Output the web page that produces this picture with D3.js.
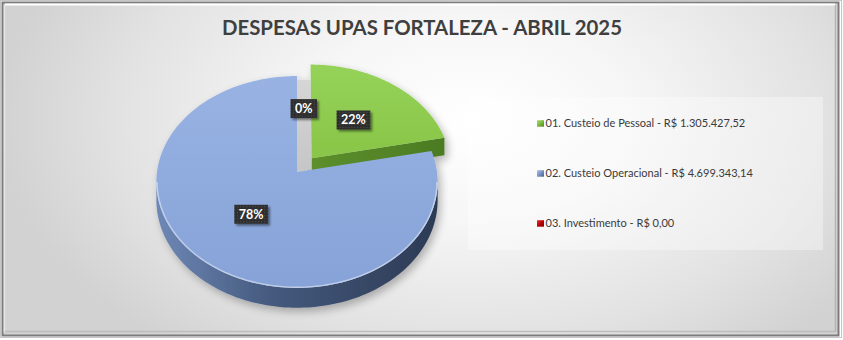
<!DOCTYPE html>
<html>
<head>
<meta charset="utf-8">
<script src="https://cdn.jsdelivr.net/npm/d3@7"></script>
<style>
  html, body { margin: 0; padding: 0; background: #ffffff; }
  svg { display: block; }
</style>
</head>
<body>
<svg id="chart" width="843" height="340"></svg>
<script>
// ---- data ----
const chartTitle = "DESPESAS UPAS FORTALEZA - ABRIL 2025";
const categories = ["01. Custeio de Pessoal", "02. Custeio Operacional", "03. Investimento"];
const values = [1305427.52, 4699343.14, 0.00];

// ---- style ----
const explode = [0.17, 0, 0];            // radial pull-out per slice (fraction of radius)
const fontFamily = "Lato, 'Open Sans', 'Liberation Sans', sans-serif";

const W = 843, H = 340;
const TAU = 2 * Math.PI;
const geo = { cx: 297, cy: 172, rx: 140, ry: 105, persp: 0.094, depth: 18 };

const brl = d3.formatLocale({ decimal: ",", thousands: ".", grouping: [3], currency: ["R$ ", ""] }).format(",.2f");
const pct = d3.format(".0%");
const total = d3.sum(values);

const svg = d3.select("#chart");
const defs = svg.append("defs");

function linGrad(id, x1, y1, x2, y2, stops, units) {
  const g = defs.append("linearGradient").attr("id", id)
    .attr("gradientUnits", units || "userSpaceOnUse")
    .attr("x1", x1).attr("y1", y1).attr("x2", x2).attr("y2", y2);
  stops.forEach(([o, c]) => g.append("stop").attr("offset", o).attr("stop-color", c));
}

// chart area background
const bg = defs.append("radialGradient").attr("id", "bgGrad")
  .attr("gradientUnits", "userSpaceOnUse")
  .attr("cx", 470).attr("cy", 120).attr("r", 470)
  .attr("gradientTransform", "translate(470,120) scale(1,0.62) translate(-470,-120)");
[[0, "#ffffff"], [0.35, "#f6f6f6"], [0.75, "#e2e2e2"], [1, "#d2d2d2"]]
  .forEach(([o, c]) => bg.append("stop").attr("offset", o).attr("stop-color", c));

linGrad("blueTop", 0, 76, 0, 290, [[0, "#98b3e3"], [1, "#86a2d7"]]);
linGrad("blueSide", 156, 0, 438, 0, [[0, "#6e88b6"], [0.4, "#455a7e"], [1, "#2c3a54"]]);
linGrad("greenTop", 0, 64, 0, 160, [[0, "#95d259"], [1, "#88c547"]]);
linGrad("greenSide", 312, 0, 446, 0, [[0, "#5c8f2d"], [1, "#4b7b22"]]);
linGrad("cutFace", 0, 80, 0, 170, [[0, "#d6d6d6"], [1, "#c6c6c6"]]);
linGrad("mkGreen", 0, 0, 1, 1, [[0, "#a9dd73"], [0.5, "#7dbb3c"], [1, "#4f8424"]], "objectBoundingBox");
linGrad("mkBlue", 0, 0, 1, 1, [[0, "#aec3ea"], [0.5, "#7892c4"], [1, "#4a5f87"]], "objectBoundingBox");
linGrad("mkRed", 0, 0, 1, 1, [[0, "#e03a3a"], [0.5, "#c00000"], [1, "#7d0000"]], "objectBoundingBox");

const sliceFill = ["greenTop", "blueTop", "mkRed"];
const sliceSide = ["greenSide", "blueSide", "mkRed"];
const markerFill = ["mkGreen", "mkBlue", "mkRed"];

// soft drop shadow for the pie and label boxes
function shadow(id, dx, dy, sd, op) {
  const f = defs.append("filter").attr("id", id)
    .attr("x", "-20%").attr("y", "-20%").attr("width", "150%").attr("height", "150%");
  f.append("feGaussianBlur").attr("in", "SourceAlpha").attr("stdDeviation", sd).attr("result", "b");
  f.append("feOffset").attr("in", "b").attr("dx", dx).attr("dy", dy).attr("result", "o");
  f.append("feComponentTransfer").attr("in", "o").attr("result", "s")
    .append("feFuncA").attr("type", "linear").attr("slope", op);
  const m = f.append("feMerge");
  m.append("feMergeNode").attr("in", "s");
  m.append("feMergeNode").attr("in", "SourceGraphic");
}
shadow("pieShadow", 3, 4, 4, 0.28);
shadow("boxShadow", 1.5, 1.5, 1.2, 0.45);

// dotted texture of the data label boxes
const dots = defs.append("pattern").attr("id", "dots")
  .attr("patternUnits", "userSpaceOnUse").attr("width", 3).attr("height", 3);
dots.append("rect").attr("width", 3).attr("height", 3).attr("fill", "#2f2f2f");
dots.append("rect").attr("x", 1).attr("y", 1).attr("width", 1).attr("height", 1).attr("fill", "#505050");

// ---- frame ----
svg.append("rect").attr("x", 0.5).attr("y", 0.5).attr("width", W - 2).attr("height", H - 3)
  .attr("fill", "none").attr("stroke", "#c6c6c6");
svg.append("rect").attr("x", 2.5).attr("y", 2.5).attr("width", 836).attr("height", 333)
  .attr("fill", "url(#bgGrad)").attr("stroke", "#7c7c7c").attr("stroke-width", 2);
svg.append("path").attr("d", "M5,4.5H835").attr("stroke", "#ffffff").attr("stroke-width", 2);
svg.append("path").attr("d", "M4.5,5V332").attr("stroke", "#e6e6e6").attr("stroke-width", 1.5);
svg.append("path").attr("d", "M5,331.5H835").attr("stroke", "#bdbdbd").attr("stroke-width", 1.5);
svg.append("path").attr("d", "M835.5,5V332").attr("stroke", "#b4b4b4").attr("stroke-width", 1.5);

// ---- title ----
svg.append("text")
  .attr("x", 422).attr("y", 35)
  .attr("text-anchor", "middle")
  .attr("font-family", fontFamily).attr("font-weight", 700).attr("font-size", 21)
  .attr("fill", "#3f3f3f")
  .attr("textLength", 400).attr("lengthAdjust", "spacingAndGlyphs")
  .text(chartTitle);

// ---- 3D pie ----
const arcs = d3.pie().sort(null).value(d => d)(values);
arcs.forEach((a, i) => { a.index = i; a.mid = (a.startAngle + a.endAngle) / 2; });

function project(X, Z, z) {
  const s = 1 / (1 + geo.persp * Z);
  return [geo.cx + geo.rx * X * s, geo.cy - geo.ry * Z * s + z * geo.depth * s];
}
function pt(a, theta, r, z) {
  const e = explode[a.index];
  return project(r * Math.sin(theta) + e * Math.sin(a.mid), r * Math.cos(theta) + e * Math.cos(a.mid), z);
}
function arcPts(a, t0, t1, r, z, n) {
  const out = [];
  for (let i = 0; i <= n; i++) out.push(pt(a, t0 + (t1 - t0) * i / n, r, z));
  return out;
}
// angular distance on the circle
function angDist(p, q) {
  const d = Math.abs(((p - q) % TAU + TAU) % TAU);
  return Math.min(d, TAU - d);
}
const line = d3.line();
const closed = pts => line(pts) + "Z";

const pie = svg.append("g").attr("filter", "url(#pieShadow)");
const visible = arcs.filter(a => a.endAngle - a.startAngle > 1e-6);

// cut face of a slice seen through the gap opened by an exploded neighbour
visible.forEach(a => {
  if (!explode[a.index]) return;
  const prevSlice = visible.find(v => v.index !== a.index && angDist(v.endAngle, a.startAngle) < 1e-6);
  if (!prevSlice) return;
  const pTop = pt(prevSlice, prevSlice.endAngle, 1, 0.22);
  const pV = pt(prevSlice, prevSlice.endAngle, 0, 0);
  const aTop = pt(a, a.startAngle, 1, 0);
  const aV = pt(a, a.startAngle, 0, 0.55);
  pie.append("path").attr("fill", "url(#cutFace)")
    .attr("d", closed([pTop, [aTop[0], pTop[1]], aV, pV]));
});

// radial side faces that turn towards the viewer
visible.forEach(a => {
  const faces = [];
  if (-Math.sin(a.endAngle) < -0.05) faces.push(a.endAngle);
  if (Math.sin(a.startAngle) < -0.05) faces.push(a.startAngle);
  faces.forEach(t => {
    pie.append("path").attr("fill", `url(#${sliceSide[a.index]})`)
      .attr("d", closed([pt(a, t, 0, 0), pt(a, t, 1, 0), pt(a, t, 1, 1), pt(a, t, 0, 1)]));
  });
});

// outer rim on the front half
const tL = Math.acos(-geo.persp), tR = TAU - tL;
visible.forEach(a => {
  const lo = Math.max(a.startAngle, tL), hi = Math.min(a.endAngle, tR);
  if (hi <= lo) return;
  const top = arcPts(a, lo, hi, 1, 0, 120);
  const bot = arcPts(a, hi, lo, 1, 1, 120);
  pie.append("path").attr("fill", `url(#${sliceSide[a.index]})`).attr("d", closed(top.concat(bot)));
});

// top faces
visible.forEach(a => {
  const pts = [pt(a, a.startAngle, 0, 0)].concat(arcPts(a, a.startAngle, a.endAngle, 1, 0, 160));
  pie.append("path").attr("fill", `url(#${sliceFill[a.index]})`).attr("d", closed(pts));
  const lo = Math.max(a.startAngle, tL), hi = Math.min(a.endAngle, tR);
  if (hi > lo) {
    pie.append("path").attr("fill", "none")
      .attr("stroke", "rgba(255,255,255,0.45)").attr("stroke-width", 1.4)
      .attr("d", line(arcPts(a, lo, hi, 0.995, 0, 120)));
  }
});

// ---- data labels ----
const labels = svg.append("g");
arcs.forEach(a => {
  let p;
  if (a.endAngle - a.startAngle > 1e-6) {
    p = pt(a, a.mid, 0.5, 0);
  } else {
    // empty slice: label centred over the gap at its angle
    const ex = arcs.find(b => explode[b.index] && angDist(b.startAngle, a.startAngle) < 1e-6);
    const base = pt(a, a.startAngle, 0.64, 0);
    p = ex ? [(base[0] + pt(ex, ex.startAngle, 1, 0)[0]) / 2, base[1]] : base;
  }
  const g = labels.append("g").attr("transform", `translate(${p[0]},${p[1]})`);
  const rect = g.append("rect").attr("fill", "url(#dots)").attr("filter", "url(#boxShadow)");
  const t = g.append("text")
    .attr("text-anchor", "middle").attr("dy", "0.36em")
    .attr("font-family", fontFamily).attr("font-weight", 700).attr("font-size", 12.5)
    .attr("fill", "#ffffff")
    .text(pct(a.value / total));
  const w = t.node().getComputedTextLength() + 9;
  rect.attr("x", -w / 2).attr("y", -9.5).attr("width", w).attr("height", 19);
});

// ---- legend ----
const legend = svg.append("g");
legend.append("rect").attr("x", 468).attr("y", 97).attr("width", 355).attr("height", 153)
  .attr("fill", "#ffffff").attr("fill-opacity", 0.35);

const legendText = categories.map((c, i) => `${c} - R$ ${brl(values[i])}`);
const items = legend.selectAll("g.item").data(legendText).join("g")
  .attr("class", "item")
  .attr("transform", (d, i) => `translate(537,${126.7 + i * 50})`);
items.append("rect").attr("x", 0).attr("y", -6.5).attr("width", 7).attr("height", 6.5)
  .attr("fill", (d, i) => `url(#${markerFill[i]})`);
const txt = items.append("text").attr("x", 8.5).attr("y", 0)
  .attr("font-family", fontFamily).attr("font-size", 11)
  .attr("fill", "#3a3a3a")
  .text(d => d);
// size the legend font so the first entry spans its usual width
const w0 = txt.node().getComputedTextLength();
txt.attr("font-size", 11 * 200 / w0);
</script>
</body>
</html>
